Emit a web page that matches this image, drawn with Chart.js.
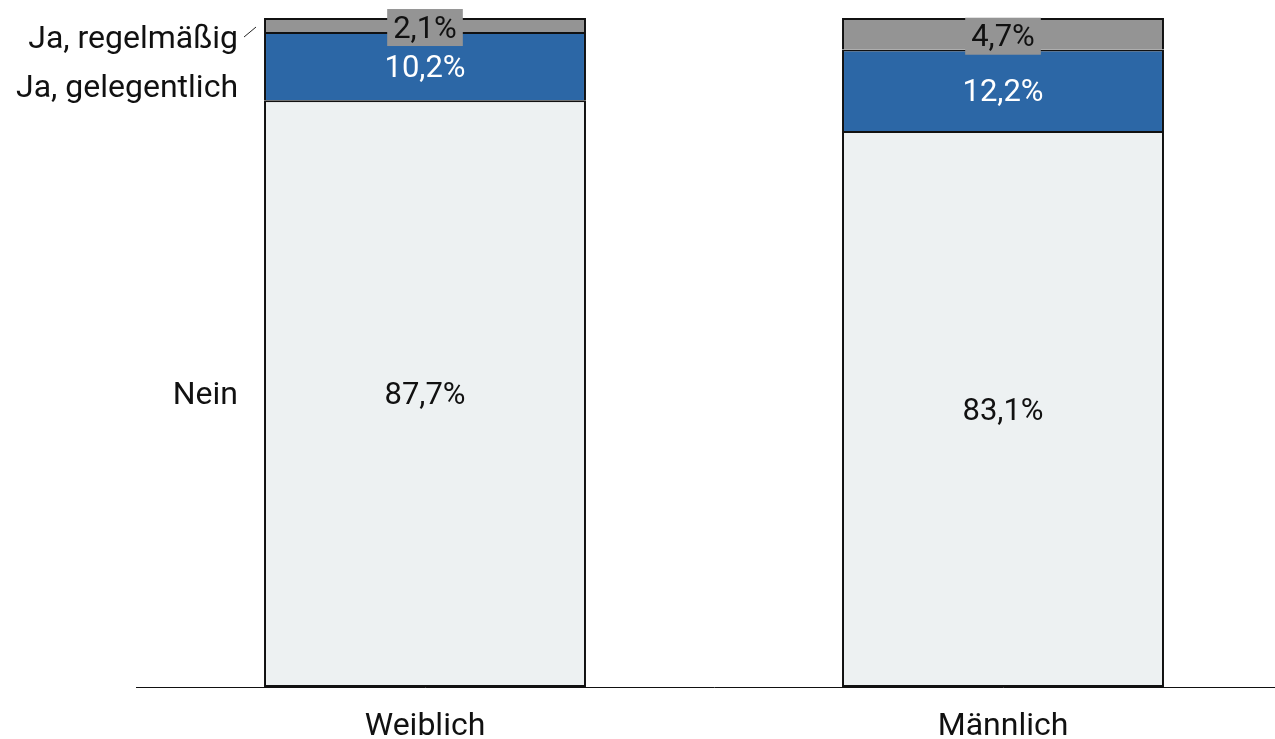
<!DOCTYPE html>
<html>
<head>
<meta charset="utf-8">
<script src="https://cdn.jsdelivr.net/npm/chart.js@4/dist/chart.umd.min.js"></script>
<style>
    html, body { margin: 0; padding: 0; background: #fff; overflow: hidden; }
    canvas { display: block; }
</style>
</head>
<body>
<canvas id="chart-container" width="1300" height="739"></canvas>
<script>
// Categories and stacked shares (percent), bottom to top
const categories = ["Weiblich", "Männlich"];
const seriesNames = ["Nein", "Ja, gelegentlich", "Ja, regelmäßig"];
const nein = [87.7, 83.1];
const gelegentlich = [10.2, 12.2];
const regelmaessig = [2.1, 4.7];

const seriesColors = ["#edf1f2", "#2c67a6", "#949494"];
const labelColors = ["#111111", "#ffffff", "#111111"];

const FONT = "Roboto, 'Open Sans', sans-serif";

// Format numbers with a comma as decimal separator
function formatPct(v) {
    return v.toFixed(1).replace('.', ',') + '%';
}

// Draws value labels inside the bars and series names left of the first bar
const barLabels = {
    id: 'barLabels',
    afterDatasetsDraw(chart) {
        const ctx = chart.ctx;
        ctx.save();
        ctx.textAlign = 'center';
        ctx.textBaseline = 'middle';
        ctx.font = '31px ' + FONT;

        chart.data.datasets.forEach((ds, di) => {
            const meta = chart.getDatasetMeta(di);
            meta.data.forEach((bar, i) => {
                const text = formatPct(ds.data[i]);
                const segH = Math.abs(bar.base - bar.y);
                let cy = (bar.y + bar.base) / 2;
                const tw = ctx.measureText(text).width;
                if (segH < 36) {
                    // too small: put the label on a box of the segment colour
                    cy += 2;
                    ctx.fillStyle = ds.backgroundColor;
                    ctx.fillRect(bar.x - tw / 2 - 6, cy - 18, tw + 12, 37);
                }
                ctx.fillStyle = labelColors[di];
                ctx.fillText(text, bar.x, cy + 3);
            });
        });

        // series names next to the first bar, pushed apart where they collide
        const first = chart.data.datasets.map((ds, di) => chart.getDatasetMeta(di).data[0]);
        const left = first[0].x - first[0].width / 2;
        const order = [2, 1, 0];
        let prev = -Infinity;
        ctx.font = '32px ' + FONT;
        ctx.textAlign = 'right';
        order.forEach(di => {
            const bar = first[di];
            const center = (bar.y + bar.base) / 2;
            let y = Math.max(center, 38, prev + 49);
            prev = y;
            ctx.fillStyle = '#111111';
            ctx.fillText(chart.data.datasets[di].label, left - 26, y + 2);
            if (y > bar.base || y < bar.y) {
                // leader line from the name to its segment
                ctx.strokeStyle = '#222222';
                ctx.lineWidth = 1;
                ctx.beginPath();
                ctx.moveTo(left - 20, y - 1);
                ctx.lineTo(left - 8, y - 11);
                ctx.stroke();
            }
        });
        ctx.restore();
    }
};

const ctx = document.getElementById('chart-container').getContext('2d');

const values = [nein, gelegentlich, regelmaessig];
const datasets = seriesNames.map((name, i) => ({
    label: name,
    data: values[i],
    backgroundColor: seriesColors[i],
    borderColor: '#111111',
    borderWidth: 2,
    // upper segments reuse the top edge of the segment below
    borderSkipped: i === 0 ? false : 'bottom',
    categoryPercentage: 1,
    barPercentage: 0.557
}));

new Chart(ctx, {
    type: 'bar',
    data: {
        labels: categories,
        datasets: datasets
    },
    plugins: [barLabels],
    options: {
        responsive: false,
        animation: false,
        layout: {
            padding: { left: 136, right: 8, top: 18, bottom: 0 }
        },
        plugins: {
            legend: { display: false },
            tooltip: { enabled: false }
        },
        scales: {
            x: {
                stacked: true,
                grid: { display: false },
                border: { display: true, color: '#111111', width: 1 },
                ticks: {
                    color: '#111111',
                    font: { family: FONT, size: 32 },
                    padding: 13
                },
                afterFit(scale) { scale.height = 52; }
            },
            y: {
                stacked: true,
                display: false,
                min: 0,
                max: 100
            }
        }
    }
});
</script>
</body>
</html>
